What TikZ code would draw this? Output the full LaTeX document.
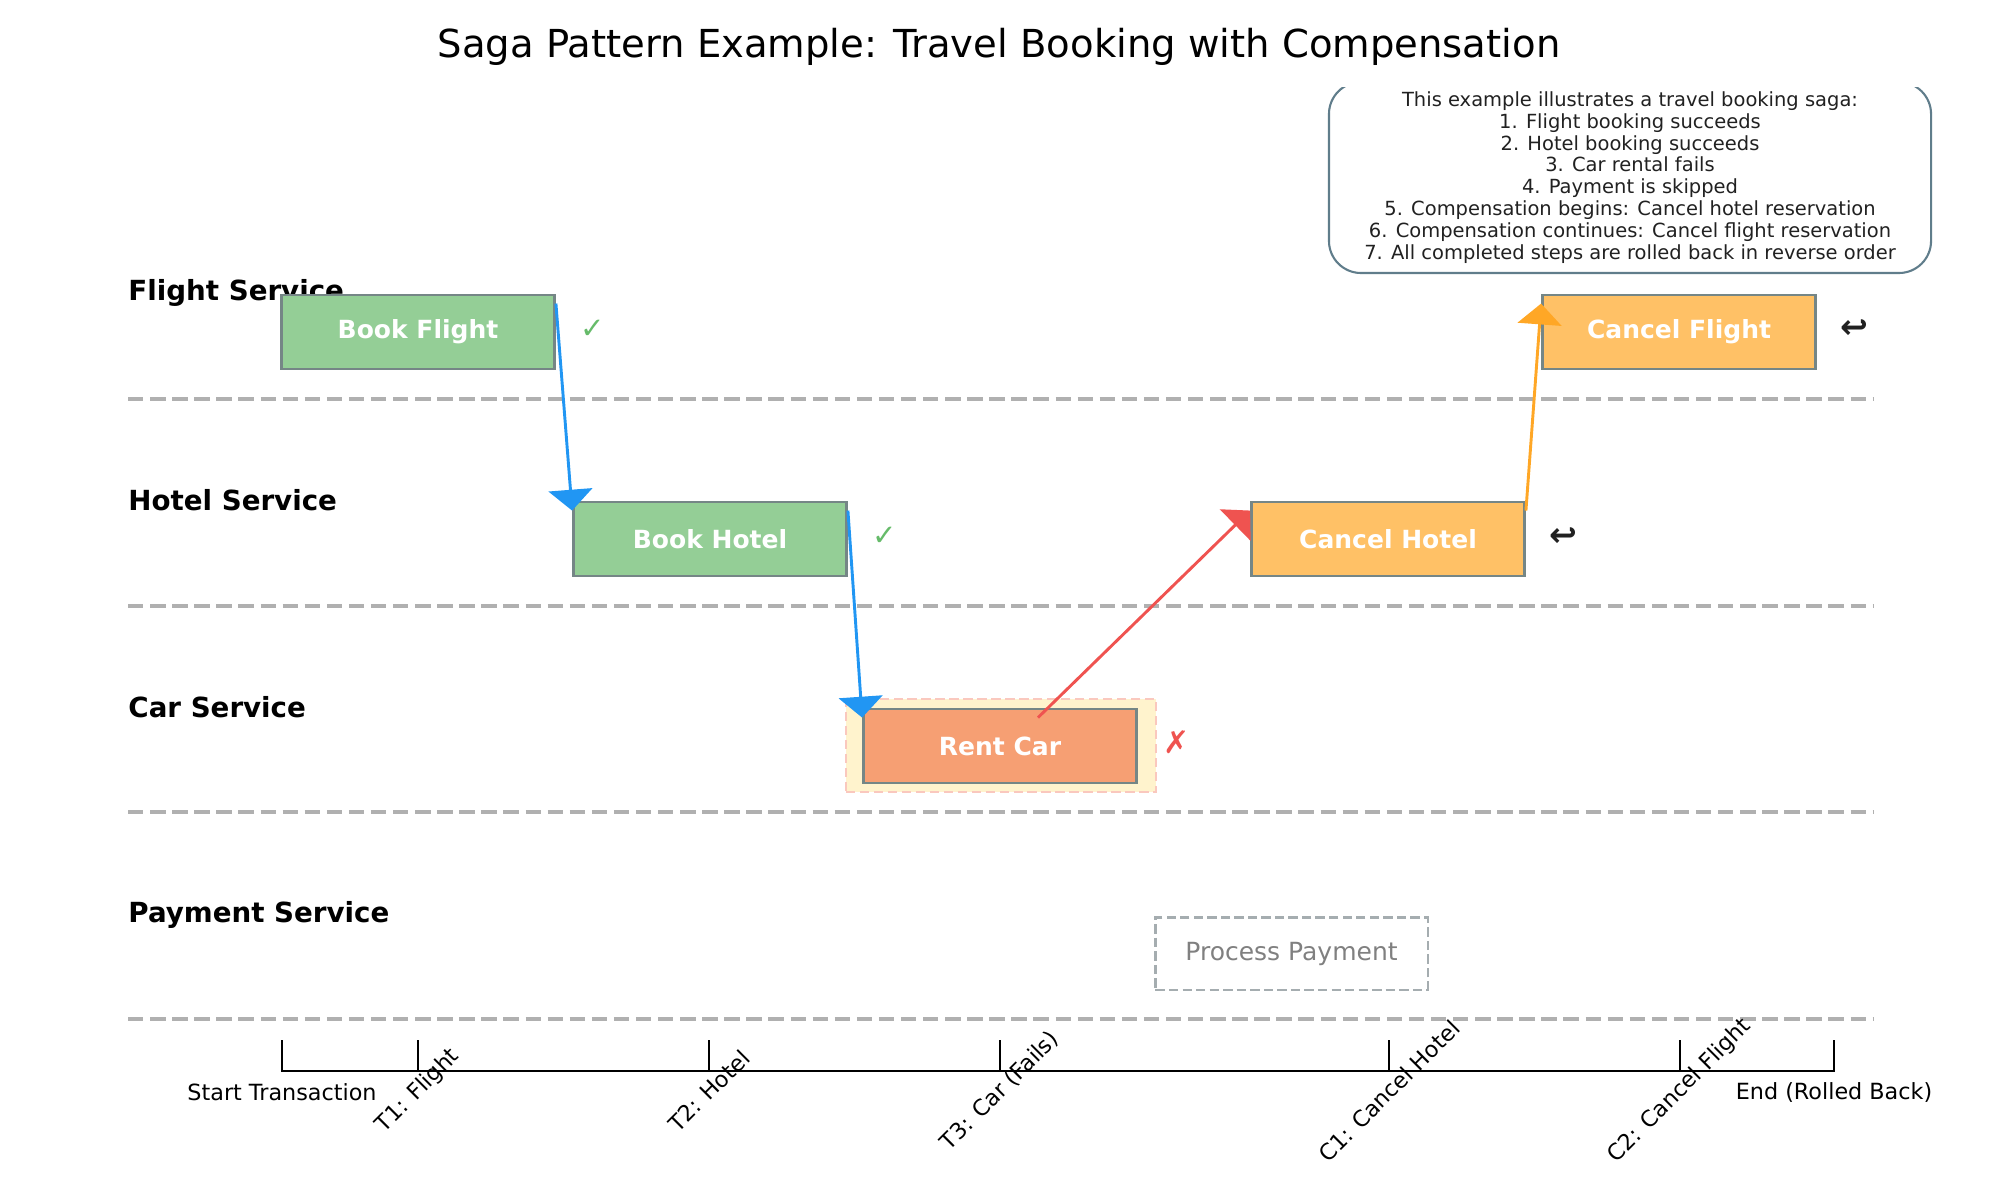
\documentclass[tikz,border=0pt]{standalone}
\usepackage{fontspec}
\setmainfont{DejaVu Sans}
\usepackage{tikz}
\usetikzlibrary{arrows.meta,positioning,calc}
\usepackage{xcolor}

\definecolor{okfill}{HTML}{94CE96}
\definecolor{undofill}{HTML}{FFC166}
\definecolor{failfill}{HTML}{F69F73}
\definecolor{boxedge}{HTML}{758686}
\definecolor{hlfill}{HTML}{FFF3CD}
\definecolor{hledge}{HTML}{FAC8BE}
\definecolor{laneline}{HTML}{B0B0B0}
\definecolor{flowblue}{HTML}{2196F3}
\definecolor{flowred}{HTML}{EF5350}
\definecolor{floworange}{HTML}{FFA726}
\definecolor{okgreen}{HTML}{66BB6A}
\definecolor{pendedge}{HTML}{A5ADB0}
\definecolor{noteedge}{HTML}{607D8B}

\begin{document}
\begin{tikzpicture}[
      x=0.48pt, y=-0.48pt,
      lanename/.style={font=\fontsize{13.3}{15}\selectfont\bfseries, anchor=west, inner sep=0pt},
      lanesep/.style={draw=laneline, line width=2pt, dash pattern=on 7.4pt off 3.2pt},
      stepbox/.style={draw=boxedge, line width=1.4pt, minimum width=131pt, minimum height=35.5pt,
        inner sep=0pt, text=white, font=\fontsize{12}{14}\selectfont\bfseries},
      okstep/.style={stepbox, fill=okfill},
      undostep/.style={stepbox, fill=undofill},
      failstep/.style={stepbox, fill=failfill},
      pendstep/.style={draw=pendedge, line width=1pt, dash pattern=on 4.5pt off 2pt,
        minimum width=130.6pt, minimum height=34.6pt, inner sep=0pt, text=gray,
        font=\fontsize{12}{14}\selectfont},
      failhl/.style={draw=hledge, fill=hlfill, line width=0.8pt, dash pattern=on 4.5pt off 2.2pt,
        minimum width=148.8pt, minimum height=44.6pt, inner sep=0pt},
      flow/.style={line width=1.4pt, -{Triangle[width=21pt,length=10pt]}},
      statusmark/.style={font=\fontsize{14}{16}\selectfont, inner sep=0pt},
      tline/.style={line width=1.2pt, black},
      ticklbl/.style={font=\fontsize{10.7}{12}\selectfont, inner sep=0pt},
      note/.style={draw=noteedge, fill=white, line width=1pt, rounded corners=15.4pt,
        minimum width=289pt, minimum height=91.7pt, align=center, text=black!87,
        font=\fontsize{9.35}{10.5}\selectfont},
    ]
    \useasboundingbox (0,0) rectangle (2000,1200);

    % Title
    \node[font=\fontsize{18.5}{22}\selectfont] (title) at (999,47)
      {Saga Pattern Example: Travel Booking with Compensation};

    % Lanes
    \foreach \y/\name in {293/Flight Service, 500/Hotel Service, 707/Car Service, 915/Payment Service}
      \node[lanename] at (128,\y) {\name};
    \foreach \y in {399,606,812,1019}
      \draw[lanesep] (128,\y) -- (1874,\y);

    % Steps
    \node[okstep] (bflight) at (418,332) {Book Flight};
    \node[okstep] (bhotel) at (710,539) {Book Hotel};
    \node[failhl] (rcarhl) at (1001,745.5) {};
    \node[failstep] (rcar) at (1000,746) {Rent Car};
    \node[undostep] (chotel) at (1388,539) {Cancel Hotel};
    \node[undostep] (cflight) at (1679,332) {Cancel Flight};
    \node[pendstep] (ppay) at (1291.5,953.5) {Process Payment};

    % Status marks
    \node[statusmark, text=okgreen] at ($(bflight.east)+(37,-3)$) {✓};
    \node[statusmark, text=okgreen] at ($(bhotel.east)+(37,-3)$) {✓};
    \node[statusmark, text=flowred, font=\fontsize{15}{17}\selectfont\bfseries] at ($(rcar.east)+(39,-4)$) {✗};
    \node[statusmark, text=black!87, font=\fontsize{16}{18}\selectfont\bfseries] at ($(chotel.east)+(38,-2)$) {↩};
    \node[statusmark, text=black!87, font=\fontsize{16}{18}\selectfont\bfseries] at ($(cflight.east)+(38,-3)$) {↩};

    % Flow
    \draw[flow, flowblue] ($(bflight.north east)+(0,10)$) -- ($(bhotel.north west)+(0,10)$);
    \draw[flow, flowblue] ($(bhotel.north east)+(0,10)$) -- ($(rcar.north west)+(0,10)$);
    \draw[flow, flowred] ($(rcar.north)+(38,10)$) -- ($(chotel.north west)+(0,10)$);
    \draw[flow, floworange] ($(chotel.north east)+(0,10)$) -- ($(cflight.north west)+(0,10)$);

    % Note, clipped at the top
    \begin{scope}
      \clip (0,88) rectangle (2000,1200);
      \node[note] (story) at (1630,177.5)
        {This example illustrates a travel booking saga:\\
         1. Flight booking succeeds\\
         2. Hotel booking succeeds\\
         3. Car rental fails\\
         4. Payment is skipped\\
         5. Compensation begins: Cancel hotel reservation\\
         6. Compensation continues: Cancel flight reservation\\
         7. All completed steps are rolled back in reverse order};
    \end{scope}

    % Timeline
    \draw[tline] (282,1040) -- (282,1071) -- (1834,1071) -- (1834,1040);
    \foreach \x/\lbl in {418/T1: Flight, 709/T2: Hotel, 1000/T3: Car (Fails),
                         1389/C1: Cancel Hotel, 1680/C2: Cancel Flight} {
      \draw[tline] (\x,1040) -- (\x,1071);
      \node[ticklbl, rotate=45] at (\x,1091) {\lbl};
    }
    \node[ticklbl] (tstart) at (282,1092) {Start Transaction};
    \node[ticklbl] (tend) at (1834,1092) {End (Rolled Back)};
  \end{tikzpicture}
\end{document}
